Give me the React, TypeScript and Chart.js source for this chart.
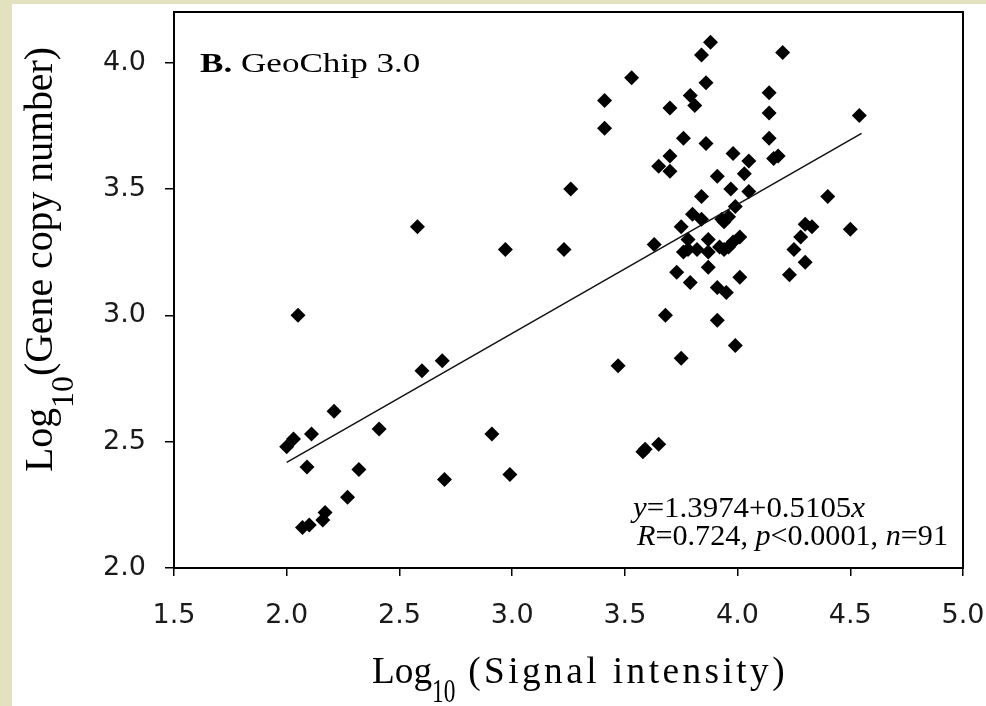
import React, { useEffect, useRef } from "react";
import { Chart, registerables } from "chart.js";

Chart.register(...registerables);

// Log10 (Signal intensity)
const X_VALUES = [
  2.0, 2.03, 2.11, 2.21, 2.09, 2.41, 2.32, 2.27, 2.07, 2.1, 2.16, 2.17, 2.7, 2.91, 2.99, 2.05, 2.58, 2.97, 3.23, 2.6,
  2.69, 3.26, 3.47, 3.75, 3.99, 3.58, 3.59, 3.65,
  3.88, 3.84, 4.2, 3.53, 3.41, 3.41, 3.86, 3.79, 3.81, 3.7, 4.14, 4.14, 4.14, 4.18, 4.16, 3.76, 3.86, 3.7, 3.65, 3.7,
  3.98, 4.05, 3.91, 4.03, 3.97, 4.05, 3.84, 4.4, 4.54,
  3.8, 3.84, 3.93, 3.96, 3.99, 3.94, 3.75, 3.63, 3.78, 3.78, 3.82, 3.76, 3.87, 3.87, 3.92, 4.01, 3.98, 3.96, 3.94, 3.87,
  3.73, 3.79, 4.01, 3.91, 3.95, 3.68, 3.91,
  4.33, 4.3, 4.28, 4.5, 4.25, 4.3, 4.23,
];
// Log10 (Gene copy number)
const Y_VALUES = [
  2.48, 2.51, 2.53, 2.62, 2.4, 2.55, 2.39, 2.28, 2.16, 2.17, 2.19, 2.22, 2.35, 2.53, 2.37, 3.0, 3.35, 3.26, 3.26, 2.78,
  2.82, 3.5, 2.8, 2.83, 2.88, 2.46, 2.47, 2.49,
  4.08, 4.03, 4.04, 3.94, 3.85, 3.74, 3.92, 3.87, 3.83, 3.82, 3.88, 3.8, 3.7, 3.63, 3.62, 3.7, 3.68, 3.63, 3.59, 3.57,
  3.64, 3.61, 3.55, 3.56, 3.5, 3.49, 3.47, 3.47, 3.79,
  3.4, 3.38, 3.38, 3.39, 3.43, 3.37, 3.35, 3.28, 3.3, 3.26, 3.26, 3.25, 3.3, 3.25, 3.27, 3.31, 3.29, 3.27, 3.26, 3.19,
  3.17, 3.13, 3.15, 3.11, 3.09, 3.0, 2.98,
  3.35, 3.36, 3.31, 3.34, 3.26, 3.21, 3.16,
];

// Fitted line endpoints (y = 1.3974 + 0.5105x)
const FIT_X = [2.0, 4.55];
const FIT_Y = [2.418, 3.72];

const X_TICKS = [1.5, 2.0, 2.5, 3.0, 3.5, 4.0, 4.5, 5.0];
const Y_TICKS = [2.0, 2.5, 3.0, 3.5, 4.0];

const PANEL_LABEL = "B.";
const PANEL_NAME = " GeoChip 3.0";
const EQ_LINE = "=1.3974+0.5105";
const STATS_R = "=0.724, ";
const STATS_P = "<0.0001, ";
const STATS_N = "=91";

const SERIF = '"Liberation Serif", "Times New Roman", serif';

type Part = { t: string; font: string; dy?: number; ls?: number; sx?: number };

function drawParts(
  ctx: CanvasRenderingContext2D,
  parts: Part[],
  x: number,
  y: number,
  angle: number,
  fit: { target?: number; k?: number }
) {
  ctx.save();
  ctx.translate(x, y);
  ctx.rotate(angle);
  ctx.textAlign = "left";
  ctx.textBaseline = "alphabetic";
  ctx.fillStyle = "#000";
  const widths = parts.map((p) => {
    ctx.font = p.font;
    (ctx as any).letterSpacing = (p.ls || 0) + "px";
    return ctx.measureText(p.t).width * (p.sx || 1);
  });
  const total = widths.reduce((a, b) => a + b, 0);
  const k = fit.target ? fit.target / total : fit.k || 1;
  ctx.scale(k, 1);
  let cx = 0;
  parts.forEach((p, i) => {
    ctx.font = p.font;
    (ctx as any).letterSpacing = (p.ls || 0) + "px";
    ctx.save();
    ctx.translate(cx, p.dy || 0);
    ctx.scale(p.sx || 1, 1);
    ctx.fillText(p.t, 0, 0);
    ctx.restore();
    cx += widths[i];
  });
  ctx.restore();
}

const bgPlugin = {
  id: "bgPanel",
  beforeDraw(chart: any) {
    const ctx = chart.ctx as CanvasRenderingContext2D;
    ctx.save();
    ctx.fillStyle = "#e2e2bf";
    ctx.fillRect(0, 0, chart.width, chart.height);
    ctx.fillStyle = "#ffffff";
    ctx.fillRect(12, 4, chart.width - 12, chart.height - 4);
    ctx.restore();
  },
};

const decoPlugin = {
  id: "deco",
  afterDraw(chart: any) {
    const ctx = chart.ctx as CanvasRenderingContext2D;
    const { left, top, right, bottom } = chart.chartArea;
    ctx.save();
    ctx.strokeStyle = "#000";
    ctx.lineWidth = 2;
    ctx.strokeRect(left, top, right - left, bottom - top);
    ctx.restore();

    // x-axis title
    drawParts(
      ctx,
      [
        { t: "Log", font: `38px ${SERIF}` },
        { t: "10", font: `34px ${SERIF}`, dy: 19, sx: 0.7 },
        { t: " (Signal intensity)", font: `38px ${SERIF}`, ls: 3.5 },
      ],
      372,
      683,
      0,
      { target: 416 }
    );
    // y-axis title
    drawParts(
      ctx,
      [
        { t: "Log", font: `40px ${SERIF}` },
        { t: "10", font: `32px ${SERIF}`, dy: 21 },
        { t: "(Gene copy number)", font: `40px ${SERIF}` },
      ],
      52,
      472,
      -Math.PI / 2,
      { target: 425 }
    );
    // panel label
    drawParts(
      ctx,
      [
        { t: PANEL_LABEL, font: `bold 27px ${SERIF}` },
        { t: PANEL_NAME, font: `27px ${SERIF}` },
      ],
      200,
      72,
      0,
      { k: 1.3 }
    );
    // regression text
    drawParts(
      ctx,
      [
        { t: "y", font: `italic 30px ${SERIF}` },
        { t: EQ_LINE, font: `30px ${SERIF}` },
        { t: "x", font: `italic 30px ${SERIF}` },
      ],
      633,
      517,
      0,
      { target: 232 }
    );
    drawParts(
      ctx,
      [
        { t: "R", font: `italic 30px ${SERIF}` },
        { t: STATS_R, font: `30px ${SERIF}` },
        { t: "p", font: `italic 30px ${SERIF}` },
        { t: STATS_P, font: `30px ${SERIF}` },
        { t: "n", font: `italic 30px ${SERIF}` },
        { t: STATS_N, font: `30px ${SERIF}` },
      ],
      637,
      545,
      0,
      { target: 311 }
    );
  },
};

export default function App() {
  const ref = useRef<HTMLCanvasElement | null>(null);

  useEffect(() => {
    if (!ref.current) return;
    const points = X_VALUES.map((x, i) => ({ x, y: Y_VALUES[i] }));
    const fit = FIT_X.map((x, i) => ({ x, y: FIT_Y[i] }));
    const tickFont = { family: '"DejaVu Sans", sans-serif', size: 27 };
    const chart = new Chart(ref.current, {
      type: "scatter",
      data: {
        datasets: [
          {
            data: fit,
            showLine: true,
            borderColor: "#111",
            borderWidth: 1.5,
            pointRadius: 0,
            fill: false,
          } as any,
          {
            data: points,
            pointStyle: "rectRot",
            pointRadius: 7.5,
            pointBackgroundColor: "#000",
            pointBorderWidth: 0,
            borderWidth: 0,
            backgroundColor: "#000",
          } as any,
        ],
      },
      options: {
        animation: false,
        responsive: false,
        maintainAspectRatio: false,
        layout: { padding: { top: 12, right: 23, left: 0, bottom: 0 } },
        plugins: {
          legend: { display: false },
          tooltip: { enabled: false },
          title: { display: false },
        },
        scales: {
          x: {
            type: "linear",
            min: 1.5,
            max: 5.0,
            afterBuildTicks: (s: any) => {
              s.ticks = X_TICKS.map((v) => ({ value: v }));
            },
            afterFit: (s: any) => {
              s.height = 138;
              s.paddingLeft = 0;
              s.paddingRight = 0;
              s.paddingTop = 0;
              s.paddingBottom = 0;
            },
            ticks: {
              callback: (v: any) => Number(v).toFixed(1),
              font: tickFont,
              color: "#1a1a1a",
              padding: 24,
              maxRotation: 0,
              autoSkip: false,
            },
            grid: {
              display: true,
              drawOnChartArea: false,
              drawTicks: true,
              tickLength: 8,
              color: "#000",
              lineWidth: 1.5,
            },
            border: { display: false },
          },
          y: {
            type: "linear",
            min: 2.0,
            max: 4.2,
            afterBuildTicks: (s: any) => {
              s.ticks = Y_TICKS.map((v) => ({ value: v }));
            },
            afterFit: (s: any) => {
              s.width = 174;
              s.paddingLeft = 0;
              s.paddingRight = 0;
              s.paddingTop = 0;
              s.paddingBottom = 0;
            },
            ticks: {
              callback: (v: any) => Number(v).toFixed(1),
              font: tickFont,
              color: "#1a1a1a",
              padding: 19,
              autoSkip: false,
            },
            grid: {
              display: true,
              drawOnChartArea: false,
              drawTicks: true,
              tickLength: 9,
              color: "#000",
              lineWidth: 1.5,
            },
            border: { display: false },
          },
        },
      } as any,
      plugins: [bgPlugin, decoPlugin],
    });
    return () => chart.destroy();
  }, []);

  return (
    <div style={{ position: "fixed", left: 0, top: 0, width: 986, height: 706 }}>
      <canvas ref={ref} width={986} height={706} style={{ display: "block" }} />
    </div>
  );
}
